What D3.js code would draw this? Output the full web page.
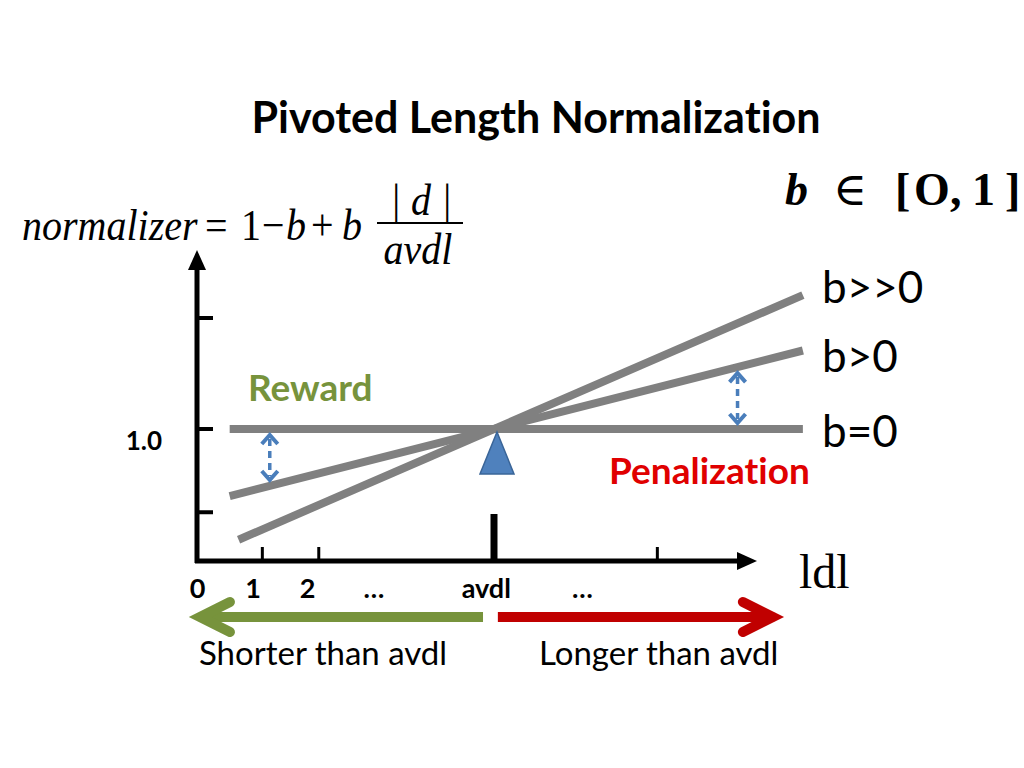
<!DOCTYPE html>
<html>
<head>
<meta charset="utf-8">
<script src="https://cdn.jsdelivr.net/npm/d3@7"></script>
<style>
  body { margin: 0; background: #fff; }
  svg { display: block; }
  text { font-variant-ligatures: none; }
  .sans { font-family: Lato, "Open Sans", sans-serif; }
  .serif { font-family: "Liberation Serif", "DejaVu Serif", serif; }
</style>
</head>
<body>
<svg id="chart" width="1024" height="768"></svg>
<script>
// |d| is measured in units of avdl (avdl = 1)
var bLabels = ['b>>0', 'b>0', 'b=0'];
var bValues = [0.58, 0.34, 0];
var lineStarts = [0.14, 0.11, 0.11];
var lineEnd = 2.04;
var xTickValues = [0.22, 0.41, 1, 1.55];
var xTickLabels = ['0', '1', '2', '…', 'avdl', '…'];
var xLabelValues = [0.002, 0.189, 0.372, 0.596, 0.974, 1.298];
var yTickValues = [0.625, 1.0, 1.5];
var yTickLabels = ['1.0'];
var yLabelValues = [1.0];
var gapAt = [0.245, 1.82];  // where the dashed double arrows sit

var svg = d3.select('#chart');
var x = d3.scaleLinear().domain([0, 1]).range([197, 494]);
var y = d3.scaleLinear().domain([1, 1.5]).range([429, 318]);
var axisY = 561, axisTop = 250, axisRight = 757;
var norm = function(b, d) { return 1 - b + b * d; };

// title
svg.append('text')
  .attr('class', 'sans')
  .attr('x', 536).attr('y', 133)
  .attr('text-anchor', 'middle')
  .attr('font-size', 43).attr('font-weight', 'bold')
  .text('Pivoted Length Normalization');

// formula (the original is a slightly stretched equation image)
var fy = 240, sy = 1.1;
var f = svg.append('g').attr('class', 'serif').attr('font-size', 40)
  .attr('transform', 'translate(0,' + fy + ') scale(1,' + sy + ')');
var ly = function(v) { return (v - fy) / sy; };
f.append('text').attr('x', 22).attr('y', 0).attr('font-style', 'italic').text('normalizer');
f.append('text').attr('x', 205).attr('y', 0).text('=');
f.append('text').attr('x', 241).attr('y', 0).text('1');
f.append('text').attr('x', 262).attr('y', 0).text('−');
f.append('text').attr('x', 286).attr('y', 0).attr('font-style', 'italic').text('b');
f.append('text').attr('x', 311).attr('y', 0).text('+');
f.append('text').attr('x', 342).attr('y', 0).attr('font-style', 'italic').text('b');
f.append('text').attr('x', 421).attr('y', ly(215)).attr('text-anchor', 'middle')
  .attr('font-style', 'italic').text('| d |');
f.append('line').attr('x1', 377).attr('x2', 463).attr('y1', ly(223)).attr('y2', ly(223))
  .attr('stroke', '#000').attr('stroke-width', 1.8);
f.append('text').attr('x', 418).attr('y', ly(264)).attr('text-anchor', 'middle')
  .attr('font-style', 'italic').text('avdl');

// b in [0,1]
var bi = svg.append('text').attr('class', 'serif').attr('y', 205)
  .attr('font-size', 46).attr('font-weight', 'bold');
bi.append('tspan').attr('x', 785).attr('font-style', 'italic').text('b');
bi.append('tspan').attr('x', 833).attr('font-weight', 'normal').text('∈');
bi.append('tspan').attr('x', 895).text('[');
bi.append('tspan').attr('x', 914).text('O');
bi.append('tspan').attr('x', 950).text(',');
bi.append('tspan').attr('x', 972).text('1');
bi.append('tspan').attr('x', 1005).text(']');

// axes
var g = svg.append('g');
g.append('line').attr('x1', x(0)).attr('x2', x(0)).attr('y1', axisY + 2).attr('y2', axisTop + 14)
  .attr('stroke', '#000').attr('stroke-width', 5);
g.append('path').attr('d', 'M' + (x(0) - 9) + ',' + (axisTop + 20) + 'L' + x(0) + ',' + axisTop + 'L' + (x(0) + 9) + ',' + (axisTop + 20) + 'Z');
g.append('line').attr('x1', x(0) - 2).attr('x2', axisRight - 16).attr('y1', axisY).attr('y2', axisY)
  .attr('stroke', '#000').attr('stroke-width', 5);
g.append('path').attr('d', 'M' + (axisRight - 20) + ',' + (axisY - 9) + 'L' + axisRight + ',' + axisY + 'L' + (axisRight - 20) + ',' + (axisY + 9) + 'Z');

// y ticks
g.selectAll('.ytick').data(yTickValues).enter().append('line')
  .attr('x1', x(0)).attr('x2', x(0) + 16)
  .attr('y1', function(d) { return y(d); }).attr('y2', function(d) { return y(d); })
  .attr('stroke', '#000').attr('stroke-width', 4);
g.selectAll('.ylab').data(yLabelValues).enter().append('text')
  .attr('class', 'sans').attr('x', 162).attr('y', function(d) { return y(d) + 21; })
  .attr('text-anchor', 'end').attr('font-size', 26).attr('font-weight', 'bold')
  .text(function(d, i) { return yTickLabels[i]; });

// x ticks (avdl tick is the tall thick one)
g.selectAll('.xtick').data(xTickValues).enter().append('line')
  .attr('x1', function(d) { return x(d); }).attr('x2', function(d) { return x(d); })
  .attr('y1', axisY).attr('y2', function(d) { return d === 1 ? axisY - 47 : axisY - 14; })
  .attr('stroke', '#000').attr('stroke-width', function(d) { return d === 1 ? 7 : 3; });
g.selectAll('.xlab').data(xLabelValues).enter().append('text')
  .attr('class', 'sans').attr('x', function(d) { return x(d); }).attr('y', 598)
  .attr('text-anchor', 'middle').attr('font-size', 27).attr('font-weight', 'bold')
  .text(function(d, i) { return xTickLabels[i]; });

// normalizer lines
g.selectAll('.bline').data(bValues).enter().append('line')
  .attr('x1', function(d, i) { return x(lineStarts[i]); })
  .attr('y1', function(d, i) { return y(norm(d, lineStarts[i])); })
  .attr('x2', x(lineEnd)).attr('y2', function(d) { return y(norm(d, lineEnd)); })
  .attr('stroke', '#808080').attr('stroke-width', 8);
var labelDy = [8, 21, 18];
g.selectAll('.blab').data(bValues).enter().append('text')
  .attr('class', 'sans').attr('x', 822)
  .attr('y', function(d, i) { return y(norm(d, lineEnd)) + labelDy[i]; })
  .attr('font-size', 44)
  .text(function(d, i) { return bLabels[i]; });

// pivot triangle
var px = x(1) + 3;
g.append('path')
  .attr('d', 'M' + px + ',' + (y(1) + 3) + 'L' + (px + 17) + ',' + (y(1) + 45) + 'L' + (px - 17) + ',' + (y(1) + 45) + 'Z')
  .attr('fill', '#4f81bd').attr('stroke', '#3a6598').attr('stroke-width', 1.5);

// dashed double arrows between b=0 and b>0
var blue = '#4a7ebb';
gapAt.forEach(function(d) {
  var ya = y(1), yb = y(norm(bValues[1], d));
  var top = Math.min(ya, yb) + 6, bot = Math.max(ya, yb) - 6;
  var cx = x(d);
  g.append('line').attr('x1', cx).attr('x2', cx).attr('y1', top + 4).attr('y2', bot - 4)
    .attr('stroke', blue).attr('stroke-width', 3.5).attr('stroke-dasharray', '7,5');
  g.append('path').attr('d', 'M' + (cx - 8) + ',' + (top + 9) + 'L' + cx + ',' + top + 'L' + (cx + 8) + ',' + (top + 9))
    .attr('fill', 'none').attr('stroke', blue).attr('stroke-width', 4);
  g.append('path').attr('d', 'M' + (cx - 8) + ',' + (bot - 9) + 'L' + cx + ',' + bot + 'L' + (cx + 8) + ',' + (bot - 9))
    .attr('fill', 'none').attr('stroke', blue).attr('stroke-width', 4);
});

// Reward / Penalization
svg.append('text').attr('class', 'sans').attr('x', 248).attr('y', 401)
  .attr('font-size', 37).attr('font-weight', 'bold').attr('fill', '#77933c').text('Reward');
svg.append('text').attr('class', 'sans').attr('x', 609).attr('y', 484)
  .attr('font-size', 37).attr('font-weight', 'bold').attr('fill', '#e00000').text('Penalization');

// |d| axis label
svg.append('text').attr('class', 'serif').attr('x', 799).attr('y', 588)
  .attr('font-size', 48).text('ldl');

// shorter / longer arrows
var arrY = 617;
var arrows = [
  {from: 0.963, to: 0.01, color: '#77933c', label: 'Shorter than avdl', lx: 199},
  {from: 1.013, to: 1.939, color: '#c00000', label: 'Longer than avdl', lx: 539}
];
arrows.forEach(function(a) {
  var x0 = x(a.from), x1 = x(a.to), dir = x1 > x0 ? 1 : -1;
  svg.append('line').attr('x1', x0).attr('x2', x1 - dir * 4).attr('y1', arrY).attr('y2', arrY)
    .attr('stroke', a.color).attr('stroke-width', 10);
  svg.append('path')
    .attr('d', 'M' + (x1 - dir * 30) + ',' + (arrY - 15) + 'L' + x1 + ',' + arrY + 'L' + (x1 - dir * 30) + ',' + (arrY + 15))
    .attr('fill', 'none').attr('stroke', a.color).attr('stroke-width', 10)
    .attr('stroke-linecap', 'round').attr('stroke-linejoin', 'miter');
  svg.append('text').attr('class', 'sans').attr('x', a.lx).attr('y', 665)
    .attr('font-size', 33).text(a.label);
});
</script>
</body>
</html>
